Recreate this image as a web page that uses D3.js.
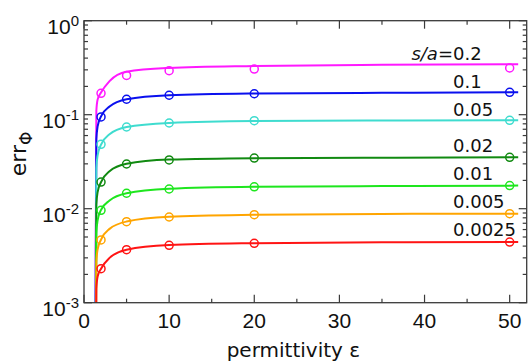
<!DOCTYPE html>
<html>
<head>
<meta charset="utf-8">
<script src="https://cdn.jsdelivr.net/npm/d3@7"></script>
<style>
  body { margin: 0; background: #fff; }
  svg { display: block; }
</style>
</head>
<body>
<div id="chart"></div>
<script>
// curve samples (permittivity) and measured points
var curveEps = [1.3, 1.45, 1.6, 2, 3, 5, 10, 20, 35, 51];
var pointEps = [2, 5, 10, 20, 50];

var seriesNames = ["0.2", "0.1", "0.05", "0.02", "0.01", "0.005", "0.0025"];
var seriesColors = ["#ff19ff", "#0a10ee", "#3fdccf", "#118a11", "#1ee61e", "#ffa500", "#ff1414"];

var curve02   = [1e-4, 0.11, 0.145, 0.172, 0.228, 0.287, 0.314, 0.330, 0.340, 0.345];
var curve01   = [5e-5, 0.055, 0.075, 0.096, 0.122, 0.146, 0.161, 0.168, 0.171, 0.173];
var curve005  = [2.5e-5, 0.027, 0.037, 0.048, 0.062, 0.074, 0.0815, 0.0855, 0.0866, 0.0872];
var curve002  = [1e-5, 0.011, 0.015, 0.0192, 0.025, 0.030, 0.0333, 0.0345, 0.0349, 0.0352];
var curve001  = [5e-6, 0.0055, 0.0075, 0.0097, 0.0122, 0.0146, 0.0163, 0.0171, 0.0174, 0.0176];
var curve0005 = [2.5e-6, 0.0027, 0.0037, 0.0047, 0.0061, 0.0073, 0.0082, 0.0086, 0.0088, 0.00885];
var curve00025 = [1e-6, 0.0014, 0.0019, 0.0023, 0.0030, 0.00366, 0.0041, 0.0043, 0.0044, 0.00442];

var points02   = [0.169, 0.262, 0.294, 0.306, 0.314];
var points01   = [0.0946, 0.146, 0.161, 0.167, 0.173];
var points005  = [0.0484, 0.074, 0.0816, 0.0863, 0.0872];
var points002  = [0.0192, 0.0299, 0.033, 0.0346, 0.0352];
var points001  = [0.0096, 0.0146, 0.0162, 0.0171, 0.0176];
var points0005 = [0.00465, 0.00728, 0.00816, 0.00863, 0.00885];
var points00025 = [0.0023, 0.00366, 0.00408, 0.00428, 0.00442];

var xTicks = [0, 10, 20, 30, 40, 50];
var xMinorTicks = [5, 15, 25, 35, 45];
var yTicks = [1, 0.1, 0.01, 0.001];
var yTickExp = ["0", "-1", "-2", "-3"];

var curves = [curve02, curve01, curve005, curve002, curve001, curve0005, curve00025];
var points = [points02, points01, points005, points002, points001, points0005, points00025];

var width = 528, height = 362;
var margin = { top: 20.7, right: 1.3, bottom: 59.3, left: 84 };
var w = width - margin.left - margin.right;
var h = height - margin.top - margin.bottom;

var svg = d3.select("#chart").append("svg")
    .attr("width", width)
    .attr("height", height);

var g = svg.append("g")
    .attr("transform", "translate(" + margin.left + "," + margin.top + ")");

var x = d3.scaleLinear().domain([0, 52]).range([0, w]);
var y = d3.scaleLog().domain([0.001, 1]).range([h, 0]);

g.append("clipPath").attr("id", "clip")
    .append("rect").attr("width", w).attr("height", h);

// minor log ticks
var yMinor = [];
[0.001, 0.01, 0.1].forEach(function (d) {
    for (var k = 2; k <= 9; k++) yMinor.push(d * k);
});

var axisColor = "#3a3a3a";
var ticks = g.append("g").attr("stroke", axisColor).attr("stroke-width", 1.2);

function vTick(xv, len) {
    ticks.append("line").attr("x1", x(xv)).attr("x2", x(xv)).attr("y1", h).attr("y2", h - len);
    ticks.append("line").attr("x1", x(xv)).attr("x2", x(xv)).attr("y1", 0).attr("y2", len);
}
function hTick(yv, len) {
    ticks.append("line").attr("y1", y(yv)).attr("y2", y(yv)).attr("x1", 0).attr("x2", len);
    ticks.append("line").attr("y1", y(yv)).attr("y2", y(yv)).attr("x1", w).attr("x2", w - len);
}
xTicks.forEach(function (d) { vTick(d, 8); });
xMinorTicks.forEach(function (d) { vTick(d, 4); });
yTicks.forEach(function (d) { hTick(d, 8); });
yMinor.forEach(function (d) { hTick(d, 4); });

// data
var line = d3.line()
    .x(function (d) { return x(d[0]); })
    .y(function (d) { return y(d[1]); })
    .curve(d3.curveMonotoneX);

var plot = g.append("g").attr("clip-path", "url(#clip)");

curves.forEach(function (c, i) {
    plot.append("path")
        .datum(curveEps.map(function (e, j) { return [e, c[j]]; }))
        .attr("d", line)
        .attr("fill", "none")
        .attr("stroke", seriesColors[i])
        .attr("stroke-width", 2);
});

points.forEach(function (p, i) {
    plot.selectAll(null)
        .data(pointEps.map(function (e, j) { return [e, p[j]]; }))
        .enter().append("circle")
        .attr("cx", function (d) { return x(d[0]); })
        .attr("cy", function (d) { return y(d[1]); })
        .attr("r", 4)
        .attr("fill", "none")
        .attr("stroke", seriesColors[i])
        .attr("stroke-width", 1.5);
});

// frame
g.append("rect")
    .attr("width", w).attr("height", h)
    .attr("fill", "none")
    .attr("stroke", axisColor)
    .attr("stroke-width", 1.3);

// tick labels
g.selectAll(".xl").data(xTicks).enter().append("text")
    .attr("x", function (d) { return x(d); })
    .attr("y", h + 25)
    .attr("text-anchor", "middle")
    .attr("font-family", "Liberation Sans, Arial, sans-serif")
    .attr("font-size", 21)
    .attr("fill", "#111")
    .text(function (d) { return d; });

yTicks.forEach(function (d, i) {
    var t = g.append("text")
        .attr("x", -5)
        .attr("y", y(d) + 13.5)
        .attr("text-anchor", "end")
        .attr("font-family", "Liberation Sans, Arial, sans-serif")
        .attr("fill", "#111");
    t.append("tspan").attr("font-size", 21).text("10");
    t.append("tspan").attr("font-size", 15).attr("dy", -8).text(yTickExp[i]);
});

// axis titles
g.append("text")
    .attr("x", w / 2 - 12)
    .attr("y", h + 54)
    .attr("text-anchor", "middle")
    .attr("font-family", "DejaVu Sans, sans-serif")
    .attr("font-size", 20)
    .attr("fill", "#111")
    .text("permittivity ε");

var yl = svg.append("text")
    .attr("transform", "translate(26," + 154 + ") rotate(-90)")
    .attr("text-anchor", "middle")
    .attr("font-family", "DejaVu Sans, sans-serif")
    .attr("fill", "#111");
yl.append("tspan").attr("font-size", 22).text("err");
yl.append("tspan").attr("font-size", 17).attr("dy", 6).text("Φ");

// series labels
var labelY = [53.3, 81, 109.3, 145, 173.3, 201.7, 229.3];
seriesNames.forEach(function (s, i) {
    svg.append("text")
        .attr("x", 453)
        .attr("y", labelY[i] + 6.5)
        .attr("font-family", "DejaVu Sans, sans-serif")
        .attr("font-size", 18)
        .attr("fill", "#111")
        .text(s);
});
var sa = svg.append("text")
    .attr("x", 453)
    .attr("y", labelY[0] + 6.5)
    .attr("text-anchor", "end")
    .attr("font-family", "DejaVu Sans, sans-serif")
    .attr("font-size", 18)
    .attr("fill", "#111");
sa.append("tspan").attr("font-style", "italic").text("s/a");
sa.append("tspan").text("=");
</script>
</body>
</html>
